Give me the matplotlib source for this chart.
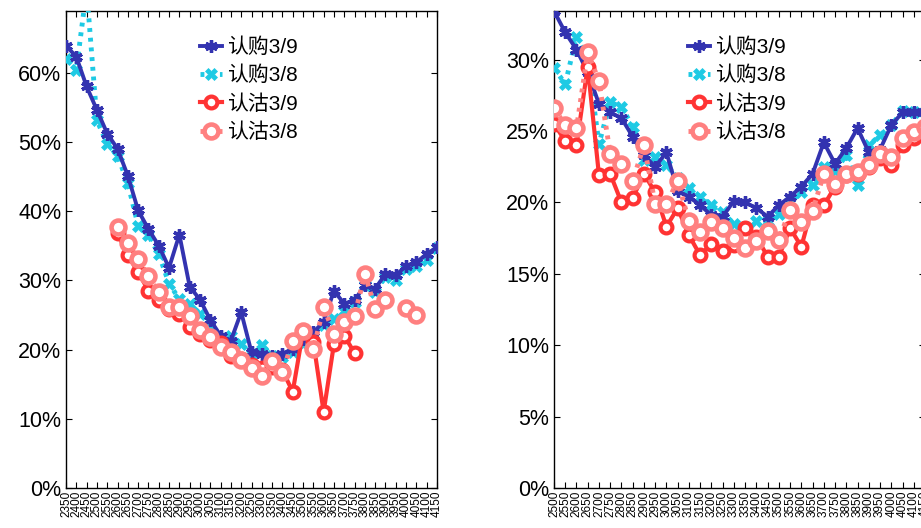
import numpy as np
import matplotlib
matplotlib.use('Agg')
import matplotlib.pyplot as plt
from matplotlib.ticker import FuncFormatter

plt.rcParams['font.family'] = ['Liberation Sans', 'Noto Sans CJK SC', 'DejaVu Sans']

nan = np.nan

# 左图：行权价 2350-4150
strikes_left = [str(k) for k in range(2350, 4151, 50)]
call_39_left = [63.9, 62.3, 58.0, 54.6, 51.2, 49.0, 45.1, 40.1, 37.4, 35.0,
                31.8, 36.6, 29.1, 27.2, 24.3, 22.0, 21.3, 25.4, 19.6, 19.4,
                19.1, 19.4, 20.1, 21.5, 22.5, 24.0, 28.5, 26.6, 27.1, 29.3,
                28.8, 30.9, 30.7, 32.1, 32.6, 33.8, 34.8]
call_38_left = [61.9, 60.4, 72.0, 53.1, 49.7, 48.0, 44.0, 37.9, 36.5, 33.8,
                29.5, 27.3, 26.6, 25.2, 23.5, 21.3, 22.0, 20.8, 19.4, 20.6,
                19.1, 18.9, 19.6, 20.8, 22.3, 23.5, 24.4, 25.6, 26.8, 29.3,
                28.3, 30.5, 30.0, 31.7, 32.1, 32.9, 34.6]
put_39_left = [nan, nan, nan, nan, nan, 36.8, 33.6, 31.2, 28.5, 27.2,
               25.9, 25.2, 23.3, 22.3, 21.4, 20.9, 19.1, 18.7, 17.8, 17.3,
               17.5, 17.0, 13.9, 22.6, 21.1, 11.0, 20.8, 22.0, 19.5, nan,
               nan, nan, nan, nan, nan, nan, nan]
put_38_left = [nan, nan, nan, nan, nan, 37.7, 35.4, 33.1, 30.6, 28.3,
               26.2, 26.2, 24.9, 22.8, 21.8, 20.4, 19.6, 18.5, 17.4, 16.2,
               18.4, 16.7, 21.3, 22.7, 20.1, 26.1, 22.3, 24.0, 24.9, 30.9,
               25.9, 27.1, nan, 26.0, 25.0, nan, nan]

# 右图：行权价 2500-4150
strikes_right = [str(k) for k in range(2500, 4151, 50)]
call_39_right = [33.4, 31.9, 30.7, 29.1, 26.9, 26.3, 25.9, 24.6, 23.3, 22.5,
                 23.5, 20.8, 20.4, 19.8, 19.1, 19.0, 20.1, 20.0, 19.6, 19.0,
                 19.8, 20.4, 21.1, 22.0, 24.2, 22.7, 23.8, 25.2, 23.5, 23.7,
                 25.4, 26.3, 26.3, 26.3]
call_38_right = [29.4, 28.3, 31.6, 30.0, 24.1, 27.0, 26.7, 25.3, 23.0, 23.2,
                 22.6, 21.7, 21.0, 20.4, 19.8, 19.3, 18.5, 18.3, 18.7, 18.7,
                 19.2, 20.0, 20.7, 21.2, 22.5, 22.2, 23.3, 21.2, 24.0, 24.7,
                 25.4, 26.4, 26.3, 26.3]
put_39_right = [25.5, 24.3, 24.0, 29.5, 21.9, 22.0, 20.0, 20.3, 22.0, 20.7,
                18.3, 19.6, 17.7, 16.3, 17.1, 16.6, 17.0, 18.2, 17.6, 16.2,
                16.2, 18.2, 16.9, 19.8, 19.8, 21.1, 21.9, 22.0, 22.5, 23.1,
                22.6, 24.0, 24.5, 24.8]
put_38_right = [26.6, 25.4, 25.2, 30.5, 28.5, 23.4, 22.7, 21.5, 24.0, 19.9,
                19.9, 21.5, 18.7, 17.9, 18.6, 18.2, 17.5, 16.8, 17.3, 18.0,
                17.4, 19.5, 18.6, 19.4, 22.0, 21.3, 22.0, 22.1, 22.6, 23.4,
                23.2, 24.5, 24.9, 25.3]

labels = ['认购3/9', '认购3/8', '认沽3/9', '认沽3/8']

BLUE = '#3333B0'
CYAN = '#1ECAE4'
RED = '#FF3333'
PINK = '#FF8080'


def draw_panel(ax, strikes, c39, c38, p39, p38, ymax, ystep):
    x = np.arange(len(strikes))
    ax.plot(x, np.array(c39) / 100, color=BLUE, lw=2.8, marker=(6, 2, 0),
            ms=9, mew=2.4, mec=BLUE, label=labels[0], zorder=4)
    ax.plot(x, np.array(c38) / 100, color=CYAN, lw=3.5, ls=(0, (0.8, 1.2)),
            marker='X', ms=8, mew=0.5, mec=CYAN, mfc=CYAN, label=labels[1], zorder=3)
    ax.plot(x, np.array(p39) / 100, color=RED, lw=3, marker='o', ms=8.5,
            mew=3, mec=RED, mfc='white', label=labels[2], zorder=5)
    ax.plot(x, np.array(p38) / 100, color=PINK, lw=3.5, ls=(0, (0.8, 1.2)),
            marker='o', ms=10, mew=3.3, mec=PINK, mfc='white', label=labels[3], zorder=6)

    ax.set_xlim(0, len(strikes) - 1)
    ax.set_ylim(0, ymax)
    ax.set_xticks(x)
    ax.set_xticklabels(strikes, rotation=90, fontsize=8.5)
    ax.set_yticks(np.arange(0, ymax, ystep))
    ax.yaxis.set_major_formatter(FuncFormatter(lambda v, p: f'{v * 100:.0f}%'))
    ax.tick_params(axis='y', labelsize=15.5, direction='in', right=True, length=4)
    ax.tick_params(axis='x', direction='in', top=True, length=4, pad=2)
    for s in ax.spines.values():
        s.set_linewidth(1.0)
        s.set_color('black')

    ax.legend(loc='upper left', bbox_to_anchor=(0.339, 0.962), frameon=False,
              numpoints=1, handlelength=1.05, handletextpad=0.25,
              labelspacing=0.42, borderaxespad=0,
              prop={'family': ['Liberation Sans', 'Noto Sans CJK SC'], 'size': 15})


fig = plt.figure(figsize=(9.21, 5.28), dpi=100)
ax1 = fig.add_axes([66 / 921, 40 / 528, 371 / 921, 477 / 528])
ax2 = fig.add_axes([554 / 921, 40 / 528, 371 / 921, 477 / 528])

draw_panel(ax1, strikes_left, call_39_left, call_38_left, put_39_left, put_38_left, 0.689, 0.1)
draw_panel(ax2, strikes_right, call_39_right, call_38_right, put_39_right, put_38_right, 0.334, 0.05)

fig.savefig('out.png', dpi=100)
